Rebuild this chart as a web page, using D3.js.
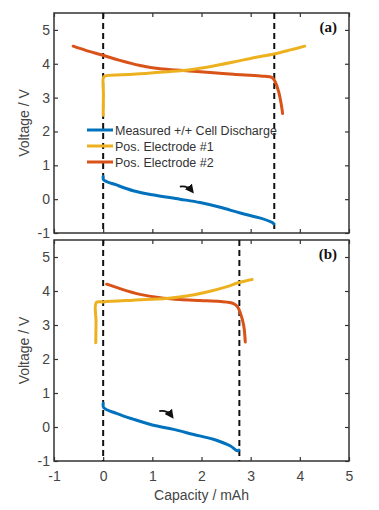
<!DOCTYPE html>
<html><head><meta charset="utf-8">
<script src="https://cdn.jsdelivr.net/npm/d3@7"></script>
<style>body{margin:0;background:#fff}svg{display:block}</style>
</head><body>
<svg id="c" width="379" height="510"></svg>
<script>
// ---- data ----
const xTicks = [-1, 0, 1, 2, 3, 4, 5];
const yTicks = [-1, 0, 1, 2, 3, 4, 5];
const seriesNames = ["Measured +/+ Cell Discharge", "Pos. Electrode #1", "Pos. Electrode #2"];
const panelLabels = ["(a)", "(b)"];

// panel (a)
const aMeasured = [[0,0.67],[0.01,0.57],[0.27,0.42],[0.61,0.25],[1,0.13],[1.56,0],[1.97,-0.1],[2.38,-0.24],[2.79,-0.41],[3.2,-0.56],[3.44,-0.69],[3.47,-0.73]];
const aPos1 = [[0,2.48],[0.005,3.1],[0.01,3.61],[0.07,3.65],[0.61,3.69],[1.16,3.75],[1.63,3.8],[2.11,3.9],[2.65,4.05],[3.06,4.18],[3.47,4.29],[3.81,4.41],[4.1,4.52]];
const aPos2 = [[-0.61,4.52],[-0.34,4.39],[0,4.25],[0.34,4.1],[0.75,3.95],[1.16,3.85],[1.63,3.8],[2.11,3.75],[2.65,3.69],[3.2,3.64],[3.44,3.59],[3.5,3.46],[3.57,3.17],[3.62,2.82],[3.65,2.53]];
const aCutoffs = [0, 3.48];
const aArrow = [[1.56,0.37],[1.8,0.25]];

// panel (b)
const bMeasured = [[0,0.7],[0.01,0.57],[0.27,0.4],[0.61,0.23],[1,0.06],[1.43,-0.07],[1.84,-0.22],[2.24,-0.36],[2.59,-0.56],[2.73,-0.7],[2.76,-0.68]];
const bPos1 = [[-0.15,2.48],[-0.145,3.1],[-0.14,3.66],[0,3.68],[0.61,3.73],[1.29,3.78],[1.7,3.85],[2.11,3.97],[2.52,4.13],[2.76,4.25],[3.03,4.34]];
const bPos2 = [[0.07,4.2],[0.34,4.07],[0.75,3.9],[1.16,3.8],[1.56,3.75],[1.97,3.72],[2.38,3.69],[2.65,3.63],[2.73,3.54],[2.8,3.31],[2.86,2.97],[2.89,2.5]];
const bCutoffs = [0, 2.77];
const bArrow = [[1.14,0.47],[1.39,0.33]];

// ---- layout ----
const colors = ["#0072BD", "#EDB120", "#D95319"];
const svg = d3.select("#c");
const left = 54, right = 349;
const panels = [
  {top: 13, bottom: 233, series: [aMeasured, aPos1, aPos2], cut: aCutoffs, arrow: aArrow, label: panelLabels[0], legend: true, xlabels: false},
  {top: 240, bottom: 461, series: [bMeasured, bPos1, bPos2], cut: bCutoffs, arrow: bArrow, label: panelLabels[1], legend: false, xlabels: true}
];

svg.append("defs").append("marker")
  .attr("id", "ah").attr("viewBox", "0 0 10 10").attr("refX", 6).attr("refY", 5)
  .attr("markerWidth", 5).attr("markerHeight", 5).attr("orient", "auto")
  .append("path").attr("d", "M0,0 L10,5 L0,10 z").attr("fill", "#111");

const x = d3.scaleLinear().domain([-1, 5]).range([left, right]);
const fmt = d => String(d);

panels.forEach(p => {
  const y = d3.scaleLinear().domain([-1, 5.5]).range([p.bottom, p.top]);
  const g = svg.append("g");
  const clipId = "clip" + p.top;
  g.append("clipPath").attr("id", clipId).append("rect")
    .attr("x", left).attr("y", p.top).attr("width", right - left).attr("height", p.bottom - p.top);

  // axes with inward ticks
  const tickCol = "#333";
  const ax = (axisFn, scale, ticks, tr, labels) => {
    const a = g.append("g").attr("transform", tr)
      .call(axisFn(scale).tickValues(ticks).tickSizeInner(-4).tickSizeOuter(0).tickPadding(8)
        .tickFormat(labels ? fmt : ""));
    a.select(".domain").remove();
    a.selectAll(".tick line").attr("stroke", tickCol).attr("stroke-width", 1.2);
    a.selectAll("text").attr("fill", "#444").style("font-family", "Liberation Sans, Arial, sans-serif").style("font-size", "14px");
    return a;
  };
  ax(d3.axisLeft, y, yTicks, `translate(${left},0)`, true)
    .selectAll("text").attr("x", -4);
  ax(d3.axisRight, y, yTicks, `translate(${right},0)`, false);
  ax(d3.axisTop, x, xTicks, `translate(0,${p.top})`, false);
  const bx = ax(d3.axisBottom, x, xTicks, `translate(0,${p.bottom})`, p.xlabels);
  bx.selectAll("text").attr("y", 10);

  // box
  g.append("rect").attr("x", left).attr("y", p.top).attr("width", right - left).attr("height", p.bottom - p.top)
    .attr("fill", "none").attr("stroke", "#333").attr("stroke-width", 1.5);

  // dashed cutoffs
  g.selectAll("line.cut").data(p.cut).enter().append("line")
    .attr("x1", d => x(d)).attr("x2", d => x(d)).attr("y1", p.top).attr("y2", p.bottom)
    .attr("stroke", "#111").attr("stroke-width", 2).attr("stroke-dasharray", "6,4");

  // curves
  const line = d3.line().x(d => x(d[0])).y(d => y(d[1])).curve(d3.curveCatmullRom.alpha(0.5));
  const order = [0, 2, 1];
  order.forEach(i => {
    g.append("path").attr("d", line(p.series[i])).attr("fill", "none")
      .attr("stroke", colors[i]).attr("stroke-width", 3).attr("stroke-linecap", "round")
      .attr("clip-path", `url(#${clipId})`);
  });

  // arrow
  const [a0, a1] = p.arrow;
  const ax0 = x(a0[0]), ay0 = y(a0[1]), ax1 = x(a1[0]), ay1 = y(a1[1]);
  g.append("path").attr("d", `M${ax0},${ay0} Q${(ax0 + ax1) / 2 + 2},${ay0 - 1} ${ax1},${ay1}`)
    .attr("fill", "none").attr("stroke", "#111").attr("stroke-width", 1.8).attr("marker-end", "url(#ah)");

  // panel label
  g.append("text").attr("x", right - 12).attr("y", p.top + 19).attr("text-anchor", "end")
    .style("font-family", "Liberation Serif, Times New Roman, serif").style("font-weight", "bold").style("font-size", "15px")
    .attr("fill", "#111").text(p.label);

  // y label
  g.append("text").attr("transform", `translate(29,${(p.top + p.bottom) / 2}) rotate(-90)`)
    .attr("text-anchor", "middle").style("font-family", "Liberation Sans, Arial, sans-serif").style("font-size", "14px")
    .attr("fill", "#444").text("Voltage / V");

  // legend
  if (p.legend) {
    const ly0 = 130, dy = 16;
    seriesNames.forEach((n, i) => {
      const yy = ly0 + i * dy;
      g.append("line").attr("x1", 87).attr("x2", 113).attr("y1", yy).attr("y2", yy)
        .attr("stroke", colors[i]).attr("stroke-width", 3);
      g.append("text").attr("x", 115).attr("y", yy + 4.5)
        .style("font-family", "Liberation Sans, Arial, sans-serif").style("font-size", "12.5px")
        .attr("fill", "#333").text(n);
    });
  }
});

// x label
svg.append("text").attr("x", x(2)).attr("y", 500).attr("text-anchor", "middle")
  .style("font-family", "Liberation Sans, Arial, sans-serif").style("font-size", "14px")
  .attr("fill", "#444").text("Capacity / mAh");
</script>
</body></html>
